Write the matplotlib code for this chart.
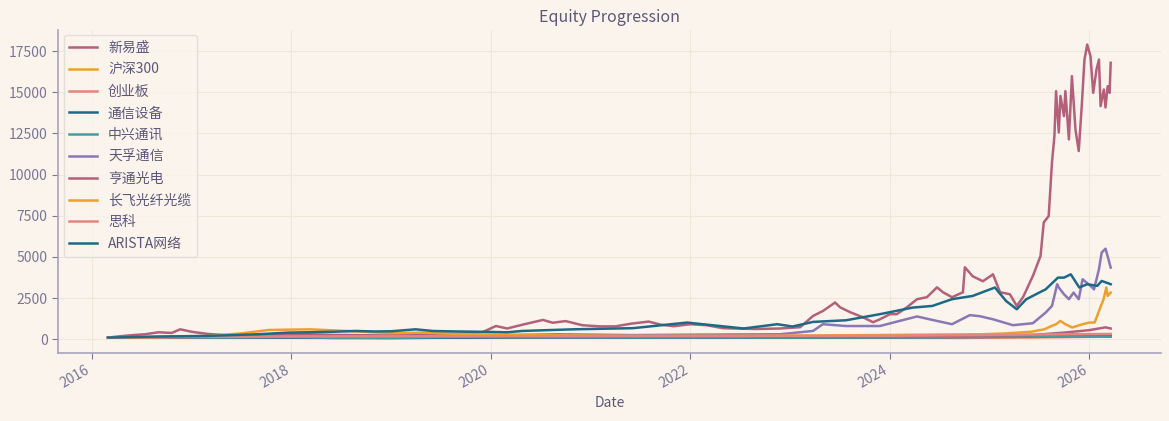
import pandas as pd
import matplotlib
matplotlib.use("Agg")
import matplotlib.pyplot as plt
import matplotlib.dates as mdates

# -- data (equity curves, start = 100) --
xys_dates = ["2016-03-01", "2016-04-15", "2016-06-01", "2016-07-15", "2016-09-01", "2016-10-20",
             "2016-11-20", "2017-01-01", "2017-03-01", "2017-05-01", "2017-07-01", "2017-09-01",
             "2017-11-01", "2018-01-01", "2018-03-01", "2018-06-01", "2018-09-01", "2018-12-01",
             "2019-03-01", "2019-06-01", "2019-09-01", "2019-12-01", "2020-01-20", "2020-03-01",
             "2020-05-01", "2020-07-10", "2020-08-15", "2020-10-01", "2020-12-01", "2021-02-01",
             "2021-04-01", "2021-06-01", "2021-08-01", "2021-09-15", "2021-11-01", "2022-01-01",
             "2022-03-01", "2022-05-01", "2022-07-01", "2022-09-01", "2022-11-25", "2023-02-07",
             "2023-03-26", "2023-05-02", "2023-06-15", "2023-07-03", "2023-08-09", "2023-09-25",
             "2023-11-01", "2023-11-26", "2024-01-02", "2024-01-27", "2024-03-04", "2024-04-10",
             "2024-05-16", "2024-06-22", "2024-07-14", "2024-08-16", "2024-09-25", "2024-10-02",
             "2024-10-31", "2024-12-07", "2025-01-13", "2025-02-08", "2025-03-16", "2025-04-10",
             "2025-05-03", "2025-06-08", "2025-07-06", "2025-07-18", "2025-08-05", "2025-08-17",
             "2025-08-26", "2025-09-01", "2025-09-11", "2025-09-17", "2025-09-30", "2025-10-05",
             "2025-10-18", "2025-10-29", "2025-11-11", "2025-11-23", "2025-12-04", "2025-12-14",
             "2025-12-24", "2026-01-05", "2026-01-15", "2026-01-27", "2026-02-05", "2026-02-11",
             "2026-02-23", "2026-03-01", "2026-03-09", "2026-03-16", "2026-03-20"]
xys_vals = [100, 180, 250, 300, 420, 380,
            600, 450, 320, 250, 220, 250,
            300, 330, 300, 260, 250, 220,
            300, 330, 330, 420, 800, 650,
            900, 1170, 1000, 1100, 850, 780,
            780, 950, 1070, 880, 790, 910,
            850, 670, 640, 620, 650, 730,
            1410, 1720, 2230, 1940, 1640, 1330,
            1030, 1210, 1520, 1520, 1940, 2430,
            2550, 3150, 2850, 2550, 2850, 4370,
            3820, 3520, 3940, 2850, 2730, 2020,
            2550, 3840, 5050, 7100, 7480, 10740,
            12340, 15070, 12560, 14780, 13550, 15070,
            12140, 15980, 12740, 11430, 14160, 16990,
            17900, 17190, 14970, 16380, 16990, 14160,
            15170, 14080, 15370, 14970, 16790]

hs300_dates = ["2016-03-01", "2017-06-01", "2018-01-20", "2019-01-03", "2020-03-01",
               "2021-02-15", "2022-10-30", "2024-09-15", "2025-06-01", "2026-03-20"]
hs300_vals = [100, 120, 140, 105, 125, 180, 120, 105, 130, 150]

cyb_dates = ["2016-03-01", "2017-06-01", "2018-01-20", "2019-01-03", "2020-03-01",
             "2021-07-20", "2022-10-30", "2024-09-15", "2025-06-01", "2026-03-20"]
cyb_vals = [100, 95, 85, 65, 110, 160, 110, 80, 110, 160]

txsb_dates = ["2016-03-01", "2017-06-01", "2018-06-01", "2019-01-03", "2020-03-01",
              "2021-06-01", "2022-06-01", "2024-01-01", "2025-06-01", "2026-03-20"]
txsb_vals = [100, 110, 95, 75, 110, 100, 100, 110, 150, 260]

zte_dates = ["2016-03-01", "2017-06-01", "2018-01-20", "2018-06-01", "2019-01-03",
             "2020-03-01", "2022-06-01", "2024-01-01", "2025-06-01", "2026-03-20"]
zte_vals = [100, 120, 140, 70, 80, 180, 110, 110, 160, 150]

tfxt_dates = ["2016-03-01", "2016-09-01", "2017-06-01", "2018-06-01", "2019-06-01",
              "2020-03-01", "2020-09-01", "2021-06-01", "2022-03-01", "2022-11-25",
              "2023-03-26", "2023-05-01", "2023-07-25", "2023-11-26", "2024-02-06",
              "2024-04-10", "2024-06-05", "2024-08-16", "2024-10-20", "2024-11-25",
              "2025-01-13", "2025-03-27", "2025-06-08", "2025-07-25", "2025-08-17",
              "2025-08-26", "2025-09-05", "2025-09-11", "2025-09-30", "2025-10-18",
              "2025-11-04", "2025-11-23", "2025-12-07", "2026-01-05", "2026-01-18",
              "2026-02-05", "2026-02-15", "2026-03-01", "2026-03-12", "2026-03-20"]
tfxt_vals = [100, 130, 150, 140, 160,
             250, 300, 250, 280, 300,
             500, 910, 800, 800, 1110,
             1380, 1170, 910, 1460, 1400,
             1210, 850, 970, 1620, 2020,
             2630, 3340, 3140, 2730, 2430,
             2830, 2430, 3640, 3240, 3030,
             4250, 5260, 5500, 4850, 4350]

htgd_dates = ["2016-03-01", "2017-01-01", "2017-12-01", "2018-06-01", "2019-06-01",
              "2020-06-01", "2021-06-01", "2022-06-01", "2023-06-01", "2024-06-01",
              "2025-06-01", "2025-10-01", "2026-01-01", "2026-03-01", "2026-03-20"]
htgd_vals = [100, 150, 250, 230, 180, 170, 150, 170, 180, 200, 250, 400, 550, 720, 650]

cfgx_dates = ["2016-03-01", "2016-09-01", "2017-03-01", "2017-07-01", "2017-10-10",
              "2018-03-10", "2018-07-20", "2019-01-01", "2019-04-20", "2019-10-01",
              "2020-06-01", "2021-06-01", "2022-06-01", "2023-06-01", "2024-06-01",
              "2024-12-01", "2025-03-01", "2025-06-01", "2025-07-20", "2025-08-15",
              "2025-09-01", "2025-09-17", "2025-10-05", "2025-10-30", "2025-12-07",
              "2026-01-01", "2026-01-20", "2026-02-10", "2026-02-22", "2026-03-04",
              "2026-03-09", "2026-03-20"]
cfgx_vals = [100, 120, 200, 350, 560,
             600, 500, 360, 400, 300,
             250, 200, 200, 230, 280,
             300, 350, 450, 600, 800,
             910, 1110, 910, 710, 910,
             1010, 1010, 1920, 2430, 3140,
             2630, 2830]

csco_dates = ["2016-03-01", "2018-01-01", "2020-01-01", "2022-01-01", "2024-01-01", "2026-03-20"]
csco_vals = [100, 170, 180, 200, 210, 320]

anet_dates = ["2016-03-01", "2016-06-01", "2016-09-01", "2016-12-01", "2017-03-01",
              "2017-06-01", "2017-09-01", "2017-12-20", "2018-03-01", "2018-06-01",
              "2018-08-25", "2018-11-01", "2019-01-01", "2019-04-01", "2019-06-01",
              "2019-08-25", "2019-12-01", "2020-03-01", "2020-04-25", "2020-10-30",
              "2021-06-05", "2021-12-20", "2022-02-15", "2022-07-15", "2022-11-15",
              "2023-01-10", "2023-03-26", "2023-07-25", "2023-11-26", "2024-03-25",
              "2024-06-05", "2024-08-16", "2024-10-31", "2025-01-20", "2025-03-02",
              "2025-04-10", "2025-05-15", "2025-07-25", "2025-09-08", "2025-09-30",
              "2025-10-25", "2025-11-25", "2025-12-24", "2026-01-30", "2026-02-15",
              "2026-03-20"]
anet_vals = [100, 130, 160, 180, 200,
             250, 300, 400, 420, 450,
             500, 470, 480, 600, 500,
             470, 450, 420, 500, 600,
             670, 1010, 910, 650, 910,
             770, 1050, 1150, 1520, 1920,
             2020, 2430, 2630, 3140, 2320,
             1820, 2430, 3030, 3740, 3740,
             3940, 3140, 3340, 3240, 3540,
             3340]

names = ["新易盛", "沪深300", "创业板", "通信设备", "中兴通讯",
         "天孚通信", "亨通光电", "长飞光纤光缆", "思科", "ARISTA网络"]
series = [(xys_dates, xys_vals), (hs300_dates, hs300_vals), (cyb_dates, cyb_vals),
          (txsb_dates, txsb_vals), (zte_dates, zte_vals), (tfxt_dates, tfxt_vals),
          (htgd_dates, htgd_vals), (cfgx_dates, cfgx_vals), (csco_dates, csco_vals),
          (anet_dates, anet_vals)]
palette = ["#b5607b", "#eea02f", "#e5857f", "#1e6a86", "#4b9aa3", "#8b77b5"]

bg = "#faf4ed"
txt = "#5c5878"

plt.rcParams["font.family"] = ["Noto Sans CJK SC", "DejaVu Sans"]

fig, ax = plt.subplots(figsize=(11.69, 4.21), dpi=100)
fig.patch.set_facecolor(bg)
ax.set_facecolor(bg)
fig.subplots_adjust(left=0.0496, right=0.993, top=0.929, bottom=0.162)

for i, (name, (d, v)) in enumerate(zip(names, series)):
    ax.plot(pd.to_datetime(d), v, color=palette[i % len(palette)], lw=1.8, label=name)

ax.set_title("Equity Progression", color=txt, fontsize=11.5)
ax.set_xlabel("Date", color=txt, fontsize=10)
ax.xaxis.set_major_locator(mdates.YearLocator(2))
ax.xaxis.set_major_formatter(mdates.DateFormatter("%Y"))
ax.grid(True, color="#f1e6da", lw=0.8)
ax.set_axisbelow(True)
for s in ["top", "right"]:
    ax.spines[s].set_visible(False)
for s in ["left", "bottom"]:
    ax.spines[s].set_color("#a8a4bc")
    ax.spines[s].set_linewidth(1.2)
ax.tick_params(colors="#7a7795", labelsize=10, length=4)
plt.setp(ax.get_xticklabels(), rotation=30, ha="right")

leg = ax.legend(loc="upper left", fontsize=10, frameon=True, facecolor=bg,
                edgecolor="#dedad4", labelcolor=txt, borderaxespad=0.4,
                labelspacing=0.56)

fig.savefig("out.png", dpi=100, facecolor=bg)
